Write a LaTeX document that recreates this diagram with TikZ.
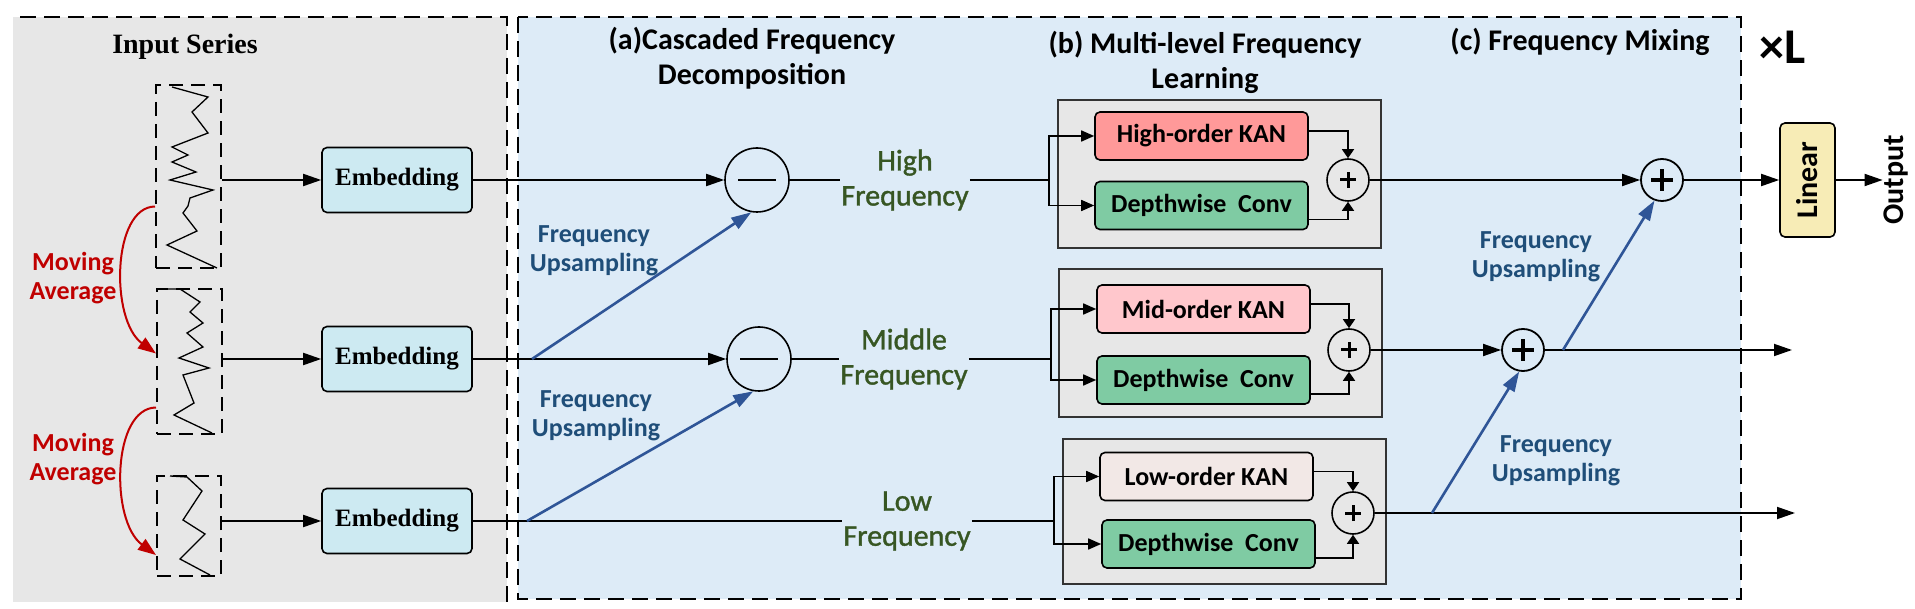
\documentclass[tikz,border=0pt]{standalone}
\usepackage{fontspec}
\setmainfont{Liberation Serif}
\newfontfamily\cali{Carlito}
\newfontfamily\calisemi[FakeBold=1.2]{Carlito}
\usetikzlibrary{arrows.meta,positioning,calc}

\definecolor{panelgray}{RGB}{231,231,231}
\definecolor{panelblue}{RGB}{221,235,247}
\definecolor{embfill}{RGB}{205,234,242}
\definecolor{highfill}{RGB}{255,153,153}
\definecolor{midfill}{RGB}{255,199,204}
\definecolor{lowfill}{RGB}{242,232,230}
\definecolor{convfill}{RGB}{127,203,163}
\definecolor{linfill}{RGB}{247,236,182}
\definecolor{mared}{RGB}{192,0,0}
\definecolor{upblue}{RGB}{47,85,151}
\definecolor{uptext}{RGB}{31,78,121}
\definecolor{freqgreen}{RGB}{55,86,35}

\begin{document}
\begin{tikzpicture}[x=1pt,y=-1pt,
  panel/.style={line width=2pt,dash pattern=on 16pt off 8pt},
  series/.style={draw,line width=2pt,dash pattern=on 14pt off 8pt,inner sep=0pt},
  wave/.style={line width=1.3pt,line join=miter},
  emb/.style={draw,line width=1.6pt,rounded corners=5pt,fill=embfill,minimum width=150pt,minimum height=65pt,font=\bfseries\fontsize{25}{28}\selectfont},
  blk/.style={draw=black!80,line width=1.6pt,fill=panelgray,inner sep=0pt},
  kan/.style={draw,line width=1.6pt,rounded corners=5pt,minimum width=213pt,minimum height=48pt,font=\cali\bfseries\fontsize{26}{30}\selectfont},
  sub/.style={draw,circle,line width=1.6pt,minimum size=64pt,inner sep=0pt,
    path picture={\draw[line width=1.5pt] ([xshift=-19pt]path picture bounding box.center) -- ([xshift=19pt]path picture bounding box.center);}},
  addin/.style={draw,circle,line width=1.6pt,minimum size=42pt,inner sep=0pt,
    path picture={\draw[line width=3pt] ([xshift=-8pt]path picture bounding box.center) -- ([xshift=8pt]path picture bounding box.center)
      ([yshift=-8pt]path picture bounding box.center) -- ([yshift=8pt]path picture bounding box.center);}},
  addmix/.style={draw,circle,line width=1.8pt,minimum size=42pt,inner sep=0pt,
    path picture={\draw[line width=4.5pt] ([xshift=-11pt]path picture bounding box.center) -- ([xshift=11pt]path picture bounding box.center)
      ([yshift=-11pt]path picture bounding box.center) -- ([yshift=11pt]path picture bounding box.center);}},
  title/.style={align=center,font=\cali\bfseries\fontsize{30}{35}\selectfont},
  freq/.style={align=center,inner sep=1pt,text=freqgreen,font=\calisemi\fontsize{30}{35}\selectfont},
  uplab/.style={align=center,text=uptext,font=\cali\bfseries\fontsize{26}{29}\selectfont},
  malab/.style={align=center,text=mared,font=\cali\bfseries\fontsize{26}{29}\selectfont},
  arr/.style={-{Triangle[length=18pt,width=12pt]},line width=1.8pt},
  sarr/.style={-{Triangle[length=13pt,width=11pt]},line width=1.6pt},
  parr/.style={-{Triangle[length=9pt,width=12pt]},line width=1.6pt},
  uparr/.style={-{Triangle[length=20pt,width=13pt]},line width=2.6pt,draw=upblue},
  maarr/.style={-{Triangle[length=18pt,width=13pt]},line width=2pt,draw=mared}]
\useasboundingbox (0,0) rectangle (1915,609);

% panels
\fill[panelgray] (13,17) rectangle (507,602);
\draw[panel] (20,17) -- (507,17) -- (507,602);
\draw[panel,fill=panelblue] (518,17) rectangle (1741,599);

\node[font=\bfseries\fontsize{28}{32}\selectfont] (insr) at (185,47) {Input Series};
\node[title] (ta) at (752,58) {(a)Cascaded Frequency\\Decomposition};
\node[title] (tb) at (1205,62) {(b) Multi-level Frequency\\Learning};
\node[title] (tc) at (1580,42) {(c) Frequency Mixing};
\node[font=\cali\bfseries\fontsize{50}{52}\selectfont] (xl) at (1783,47) {×L};

% input series
\node[series,minimum width=65pt,minimum height=183pt] (s1) at (188.5,176.5) {};
\node[series,minimum width=65pt,minimum height=145pt] (s2) at (189.5,361.5) {};
\node[series,minimum width=64pt,minimum height=100pt] (s3) at (189,526) {};
\draw[wave] (172,87) -- (208,97) -- (192,112) -- (208,133) -- (172,147) -- (188,155) -- (172,162) -- (196,172) -- (170,180)
  -- (213,190) -- (190,198) -- (188,206) -- (183,213) -- (197,231) -- (167,245) -- (217,268);
\draw[wave] (166,289) -- (180,289) -- (200,302) -- (190,312) -- (203,323) -- (187,333) -- (203,347) -- (179,358) -- (209,368)
  -- (183,375) -- (194,403) -- (174,415) -- (212,433);
\draw[wave] (170,476) -- (187,477) -- (202,491) -- (183,520) -- (205,534) -- (180,559) -- (210,575);

\node[malab] (ma1) at (73,278) {Moving\\Average};
\node[malab] (ma2) at (73,459) {Moving\\Average};
\draw[maarr] ([yshift=-30pt]s1.west) .. controls (112,207) and (110,320) .. ([yshift=8pt]s2.west);
\draw[maarr] ([yshift=-46pt]s2.west) .. controls (112,408) and (110,521) .. ([yshift=-29pt]s3.west);

\node[emb] (emb1) at (397,180) {Embedding};
\node[emb] (emb2) at (397,359) {Embedding};
\node[emb] (emb3) at (397,521) {Embedding};
\draw[arr] (s1.east |- emb1) -- (emb1);
\draw[arr] (s2.east |- emb2) -- (emb2);
\draw[arr] (s3.east |- emb3) -- (emb3);

% (a) decomposition
\node[sub] (min1) at (757,180) {};
\node[sub] (min2) at (759,359) {};
\node[freq] (hf) at (905,180) {High\\Frequency};
\node[freq] (mf) at (904,359) {Middle\\Frequency};
\node[freq] (lf) at (907,521) {Low\\Frequency};
\coordinate (up1) at (532,359);
\coordinate (up2) at (527,521);
\draw[arr] (emb1) -- (min1);
\draw[arr] (emb2) -- (min2);
\draw[line width=1.8pt] (emb3) -- (lf);
\draw[line width=1.8pt] (min1) -- (hf);
\draw[line width=1.8pt] (min2) -- (mf);
\draw[uparr] (up1) -- (min1.260);
\draw[uparr] (up2) -- (min2.260);
\node[uplab] (ul1) at (594,251) {Frequency\\Upsampling};
\node[uplab] (ul2) at (596,416) {Frequency\\Upsampling};

% (b) multi-level learning
\node[blk,minimum width=323pt,minimum height=148pt] (blk1) at (1219.5,174) {};
\node[blk,minimum width=323pt,minimum height=148pt] (blk2) at (1220.5,343) {};
\node[blk,minimum width=323pt,minimum height=145pt] (blk3) at (1224.5,511.5) {};
\node[kan,fill=highfill] (kan1) at (1201.5,136) {High-order KAN};
\node[kan,fill=convfill] (dw1) at (1201.5,205.5) {Depthwise\ \ Conv};
\node[kan,fill=midfill] (kan2) at (1203.5,309) {Mid-order KAN};
\node[kan,fill=convfill] (dw2) at (1203.5,380) {Depthwise\ \ Conv};
\node[kan,fill=lowfill] (kan3) at (1206.5,476.5) {Low-order KAN};
\node[kan,fill=convfill] (dw3) at (1208.5,544) {Depthwise\ \ Conv};
\node[addin] (pl1) at (1348,180) {};
\node[addin] (pl2) at (1349,350) {};
\node[addin] (pl3) at (1353,513) {};
\coordinate (br1) at (1049,180);
\coordinate (br2) at (1051,359);
\coordinate (br3) at (1054,521);
\draw[line width=1.8pt] (hf) -- (br1);
\draw[line width=1.8pt] (mf) -- (br2);
\draw[line width=1.8pt] (lf) -- (br3);
\foreach \i in {1,2,3}{
  \draw[sarr] (br\i) |- (kan\i);
  \draw[sarr] (br\i) |- (dw\i);
  \draw[parr] ([yshift=5pt]kan\i.east) -| (pl\i);
  \draw[parr] ([yshift=-14pt]dw\i.east) -| (pl\i);
}

% (c) mixing
\node[addmix] (plt) at (1662,180) {};
\node[addmix] (plm) at (1523,350) {};
\coordinate (upc1) at (1563,350);
\coordinate (upc2) at (1432,513);
\coordinate (end2) at (1792,350);
\coordinate (end3) at (1795,513);
\draw[arr] (pl1) -- (plt);
\draw[arr] (pl2) -- (plm);
\draw[arr] (plm) -- (end2);
\draw[arr] (pl3) -- (end3);
\draw[uparr] (upc1) -- (plt.250);
\draw[uparr] (upc2) -- (plm.260);
\node[uplab] (ul3) at (1536,257) {Frequency\\Upsampling};
\node[uplab] (ul4) at (1556,461) {Frequency\\Upsampling};

\node[draw,line width=1.6pt,rounded corners=5pt,fill=linfill,minimum width=55pt,minimum height=114pt,
  font=\cali\bfseries\fontsize{30}{32}\selectfont] (lin) at (1807.5,180) {\rotatebox{90}{Linear}};
\node[rotate=90,inner sep=1pt,font=\cali\bfseries\fontsize{30}{32}\selectfont] (outp) at (1896,180) {Output};
\draw[arr] (plt) -- (lin);
\draw[arr] (lin) -- (outp);
\end{tikzpicture}
\end{document}
